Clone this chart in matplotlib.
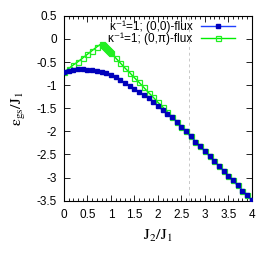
import matplotlib
matplotlib.use('Agg')
import matplotlib.pyplot as plt
from matplotlib.ticker import MultipleLocator, FuncFormatter

# (0,0)-flux
x_00 = [0.0, 0.1, 0.2, 0.3, 0.4, 0.5, 0.6, 0.7, 0.8, 0.9,
        1.0, 1.1, 1.2, 1.3, 1.4, 1.5, 1.6, 1.7, 1.8, 1.9,
        2.0, 2.1, 2.2, 2.3, 2.4, 2.5, 2.6, 2.7, 2.8, 2.9,
        3.0, 3.1, 3.2, 3.3, 3.4, 3.5, 3.6, 3.7, 3.8, 3.9, 4.0]
e_00 = [-0.72, -0.69, -0.67, -0.66, -0.66, -0.665, -0.675, -0.69, -0.71, -0.74,
        -0.78, -0.83, -0.89, -0.96, -1.02, -1.08, -1.14, -1.21, -1.28, -1.36,
        -1.45, -1.54, -1.62, -1.69, -1.79, -1.90, -2.00, -2.11, -2.22, -2.32,
        -2.43, -2.53, -2.64, -2.75, -2.85, -2.96, -3.06, -3.17, -3.28, -3.38, -3.49]

# (0,pi)-flux
x_0pi = [0.0, 0.1, 0.2, 0.3, 0.4, 0.5, 0.6, 0.7, 0.8,
         0.82, 0.84, 0.86, 0.88, 0.9, 0.92, 0.94, 0.96, 0.98,
         1.0, 1.1, 1.2, 1.3, 1.4, 1.5, 1.6, 1.7, 1.8, 1.9,
         2.0, 2.1, 2.2, 2.3, 2.4, 2.5, 2.6, 2.7, 2.8, 2.9,
         3.0, 3.1, 3.2, 3.3, 3.4, 3.5, 3.6, 3.7, 3.8, 3.9, 4.0]
e_0pi = [-0.72, -0.64, -0.56, -0.49, -0.41, -0.33, -0.25, -0.17, -0.10,
         -0.12, -0.14, -0.16, -0.18, -0.20, -0.22, -0.24, -0.27, -0.29,
         -0.31, -0.41, -0.52, -0.63, -0.73, -0.84, -0.94, -1.05, -1.16, -1.26,
         -1.37, -1.47, -1.58, -1.69, -1.79, -1.90, -2.00, -2.11, -2.22, -2.32,
         -2.43, -2.53, -2.64, -2.75, -2.85, -2.96, -3.06, -3.17, -3.28, -3.38, -3.49]

j_trans = 2.67

plt.rcParams['font.family'] = ['Liberation Sans', 'DejaVu Sans']
plt.rcParams['font.size'] = 8.5

fig = plt.figure(figsize=(2.69, 2.56), dpi=100)
ax = fig.add_axes([0.238, 0.216, 0.698, 0.722])

ax.axvline(j_trans, color='#c8c8c8', lw=0.7, ls=(0, (3, 3)), zorder=1)
ax.plot(x_00, e_00, color='#2040ff', lw=1, marker='s', ms=2.2,
        mfc='#0000bb', mec='#0000bb', label='κ⁻¹=1; (0,0)-flux', zorder=3)
ax.plot(x_0pi, e_0pi, color='#00ee00', lw=1, marker='s', ms=3.6,
        mfc='none', mec='#22ee22', mew=0.9, label='κ⁻¹=1; (0,π)-flux', zorder=2)

ax.set_xlim(0, 4)
ax.set_ylim(-3.5, 0.5)
ax.xaxis.set_major_locator(MultipleLocator(0.5))
ax.xaxis.set_minor_locator(MultipleLocator(0.1))
ax.yaxis.set_major_locator(MultipleLocator(0.5))
fmt = FuncFormatter(lambda v, p: '%g' % v)
ax.xaxis.set_major_formatter(fmt)
ax.yaxis.set_major_formatter(fmt)
ax.tick_params(which='both', direction='in', top=True, right=True, width=0.6)
ax.tick_params(which='major', length=4)
ax.tick_params(which='minor', length=2)
ax.tick_params(axis='x', pad=6)
ax.tick_params(axis='y', pad=5)
for s in ax.spines.values():
    s.set_linewidth(0.8)

ax.set_xlabel(r'$\mathrm{J_2/J_1}$', fontsize=11.5, math_fontfamily='stix', labelpad=5)
ax.set_ylabel(r'$\mathrm{\varepsilon_{gs}/J_1}$', fontsize=11.5, math_fontfamily='stix', labelpad=6)

ax.legend(loc='upper right', bbox_to_anchor=(0.911, 0.975), frameon=False,
          markerfirst=False, handlelength=2.9, fontsize=8.5, borderaxespad=0,
          borderpad=0, handletextpad=0.7, labelspacing=0.0)

fig.savefig('out.png', dpi=100)
